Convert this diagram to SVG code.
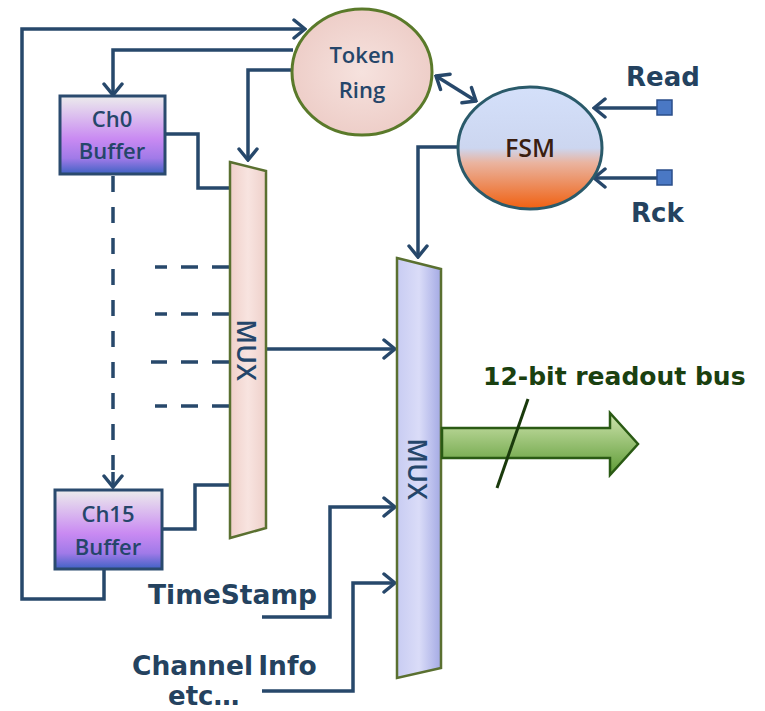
<svg xmlns="http://www.w3.org/2000/svg" width="765" height="711" viewBox="0 0 765 711">
<defs>
<style>
.ln{fill:none;stroke:#27486b;stroke-width:3.5;stroke-linejoin:miter}
.arr{marker-end:url(#ah)}
.dash{fill:none;stroke:#27486b;stroke-width:3.5}
.lbl{font-family:"DejaVu Sans","Liberation Sans",sans-serif;font-weight:bold;fill:#24425f}
.nt{font-family:"Open Sans","Liberation Sans",sans-serif;font-weight:600;fill:#25466a;text-anchor:middle}
</style>
<marker id="ah" markerUnits="userSpaceOnUse" viewBox="-14 -12 16 24" markerWidth="16" markerHeight="24" refX="0" refY="0" orient="auto-start-reverse">
<path d="M-11,-9 L0,0 L-11,9" fill="none" stroke="#27486b" stroke-width="3.5" stroke-linecap="round"/>
</marker>
<linearGradient id="buf" x1="0" y1="0" x2="0" y2="1">
<stop offset="0" stop-color="#ececec"/>
<stop offset="0.55" stop-color="#c98af2"/>
<stop offset="0.8" stop-color="#a07ae8"/>
<stop offset="1" stop-color="#3f62c4"/>
</linearGradient>
<linearGradient id="fsm" x1="0" y1="0" x2="0" y2="1">
<stop offset="0" stop-color="#d4e0fa"/>
<stop offset="0.5" stop-color="#ccd6f0"/>
<stop offset="0.62" stop-color="#eab4a0"/>
<stop offset="1" stop-color="#f06010"/>
</linearGradient>
<radialGradient id="tok" cx="0.5" cy="0.5" r="0.6">
<stop offset="0" stop-color="#f6e2de"/>
<stop offset="1" stop-color="#eccac4"/>
</radialGradient>
<linearGradient id="mux1" x1="0" y1="0" x2="1" y2="0">
<stop offset="0" stop-color="#f0d0ca"/>
<stop offset="0.5" stop-color="#f8e4e0"/>
<stop offset="1" stop-color="#eed0ca"/>
</linearGradient>
<linearGradient id="mux2" x1="0" y1="0" x2="1" y2="0">
<stop offset="0" stop-color="#c8ccf2"/>
<stop offset="0.5" stop-color="#dadcf8"/>
<stop offset="1" stop-color="#a4aae4"/>
</linearGradient>
<linearGradient id="bus" x1="0" y1="0" x2="0" y2="1">
<stop offset="0" stop-color="#cfe4ae"/>
<stop offset="1" stop-color="#5c9a34"/>
</linearGradient>
</defs>

<g id="connectors">
<polyline class="ln arr" points="104,569 104,599 22,599 22,29 305,29"/>
<polyline class="ln arr" points="293,50 113,50 113,95"/>
<polyline class="ln arr" points="291,70 248,70 248,160"/>
<line class="dash" x1="113" y1="176" x2="113" y2="470" stroke-dasharray="16 15"/>
<polyline class="ln arr" points="113,472 113,487"/>
<polyline class="ln" points="165,134 198,134 198,188 230,188"/>
<polyline class="ln" points="162,529 195,529 195,485 230,485"/>
<line class="dash" x1="229" y1="267" x2="155" y2="267" stroke-dasharray="17 14"/>
<line class="dash" x1="229" y1="314" x2="155" y2="314" stroke-dasharray="17 14"/>
<line class="dash" x1="229" y1="362" x2="151" y2="362" stroke-dasharray="17 14"/>
<line class="dash" x1="229" y1="406" x2="155" y2="406" stroke-dasharray="17 14"/>
<polyline class="ln arr" points="267,349 395,349"/>
<polyline class="ln arr" points="459,147 418,147 418,257"/>
<line class="ln" x1="436" y1="76" x2="476" y2="101" marker-start="url(#ah)" marker-end="url(#ah)"/>
<polyline class="ln arr" points="657,108 594,108"/>
<polyline class="ln arr" points="657,178 594,178"/>
<polyline class="ln arr" points="262,617 330,617 330,507 395,507"/>
<polyline class="ln arr" points="262,691 353,691 353,583 395,583"/>
</g>

<g id="token-ring">
<ellipse cx="362" cy="72" rx="70" ry="63" fill="url(#tok)" stroke="#5a7a2a" stroke-width="3"/>
<text class="nt" x="362" y="63" font-size="22">Token</text>
<text class="nt" x="362" y="98" font-size="22">Ring</text>
</g>

<g id="fsm-node">
<ellipse cx="530" cy="148" rx="72" ry="61" fill="url(#fsm)" stroke="#2a5a6a" stroke-width="3"/>
<text x="530" y="157" font-family="Open Sans,Liberation Sans,sans-serif" font-weight="600" font-size="25" fill="#3a1e10" text-anchor="middle">FSM</text>
</g>

<g id="read">
<rect x="657" y="100" width="15" height="15" fill="#4a78c4" stroke="#2a4e8a" stroke-width="1.5"/>
<text class="lbl" x="626" y="86" font-size="26">Read</text>
</g>
<g id="rck">
<rect x="657" y="170" width="15" height="15" fill="#4a78c4" stroke="#2a4e8a" stroke-width="1.5"/>
<text class="lbl" x="631" y="222" font-size="26">Rck</text>
</g>

<g id="ch0">
<rect x="60" y="96" width="105" height="78" fill="url(#buf)" stroke="#2a4a6e" stroke-width="3"/>
<text class="nt" x="112" y="127" font-size="22">Ch0</text>
<text class="nt" x="112" y="159" font-size="22">Buffer</text>
</g>

<g id="ch15">
<rect x="55" y="490" width="107" height="79" fill="url(#buf)" stroke="#2a4a6e" stroke-width="3"/>
<text class="nt" x="108" y="522" font-size="22">Ch15</text>
<text class="nt" x="108" y="555" font-size="22">Buffer</text>
</g>

<g id="mux1">
<polygon points="230,162 266,171 266,528 230,538" fill="url(#mux1)" stroke="#5a7030" stroke-width="2.5"/>
<text class="nt" x="0" y="0" font-size="27" transform="translate(237,350) rotate(90)">MUX</text>
</g>

<g id="mux2">
<polygon points="397,258 441,269 441,668 397,678" fill="url(#mux2)" stroke="#5a7030" stroke-width="2.5"/>
<text class="nt" x="0" y="0" font-size="27" transform="translate(408,469) rotate(90)">MUX</text>
</g>

<g id="bus">
<polygon points="442,428 610,428 610,413 638,444 610,475 610,458 442,458" fill="url(#bus)" stroke="#2a5a14" stroke-width="2.5"/>
<line x1="528" y1="399" x2="497" y2="488" stroke="#1a3a0c" stroke-width="3"/>
<text x="483" y="385" font-family="DejaVu Sans,Liberation Sans,sans-serif" font-weight="bold" font-size="25" fill="#1a4010">12-bit readout bus</text>
</g>

<g id="labels">
<text class="lbl" x="148" y="604" font-size="26.5">TimeStamp</text>
<text class="lbl" x="132" y="675" font-size="26.5" word-spacing="-4">Channel Info</text>
<text class="lbl" x="168" y="705" font-size="26">etc…</text>
</g>
</svg>
